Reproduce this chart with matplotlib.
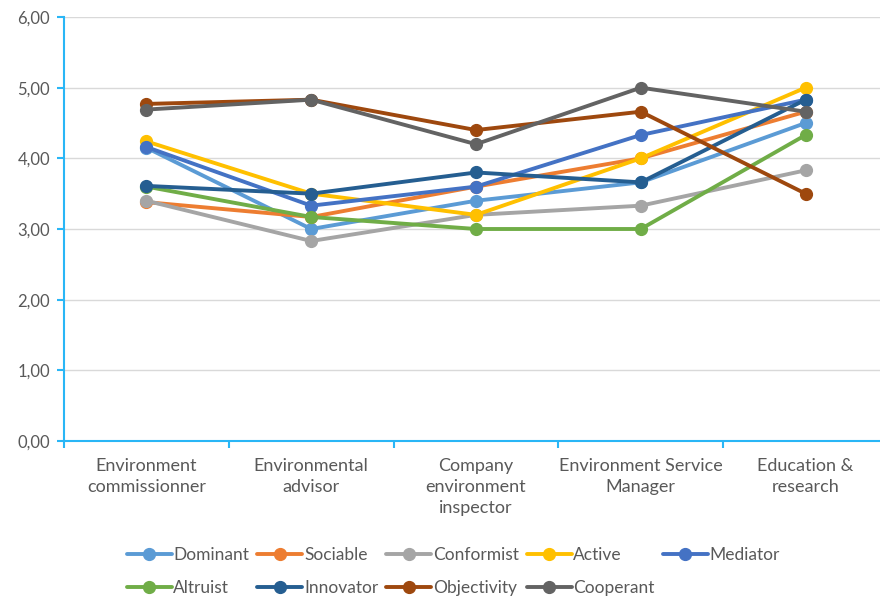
import matplotlib
matplotlib.use("Agg")
import matplotlib.pyplot as plt
import numpy as np

categories = ["Environment\ncommissionner", "Environmental\nadvisor", "Company\nenvironment\ninspector",
              "Environment Service\nManager", "Education &\nresearch"]
series_names = ["Dominant", "Sociable", "Conformist", "Active", "Mediator",
                "Altruist", "Innovator", "Objectivity", "Cooperant"]
dominant    = [4.15, 3.00, 3.40, 3.66, 4.50]
sociable    = [3.38, 3.17, 3.60, 4.00, 4.66]
conformist  = [3.40, 2.83, 3.20, 3.33, 3.83]
active      = [4.24, 3.50, 3.20, 4.00, 5.00]
mediator    = [4.16, 3.33, 3.60, 4.33, 4.83]
altruist    = [3.60, 3.17, 3.00, 3.00, 4.33]
innovator   = [3.61, 3.50, 3.80, 3.66, 4.83]
objectivity = [4.77, 4.83, 4.40, 4.66, 3.50]
cooperant   = [4.69, 4.83, 4.20, 5.00, 4.66]
values = [dominant, sociable, conformist, active, mediator, altruist, innovator, objectivity, cooperant]
colors = ["#5B9BD5", "#ED7D31", "#A5A5A5", "#FFC000", "#4472C4",
          "#70AD47", "#255E91", "#9E480E", "#636363"]
yticks = [0, 1, 2, 3, 4, 5, 6]

plt.rcParams['font.family'] = ['Lato', 'DejaVu Sans']
fig = plt.figure(figsize=(8.8, 5.99), dpi=100)
ax = fig.add_axes([64/880, 1-441/599, 824/880, 424/599])

x = np.arange(len(categories))
handles = []
for name, vals, c in zip(series_names, values, colors):
    h, = ax.plot(x, vals, color=c, lw=2.8, marker='o', markersize=8.5, label=name,
                 solid_capstyle='round', clip_on=False)
    handles.append(h)

ax.set_xlim(-0.5, 4.5)
ax.set_ylim(0, 6)
ax.set_yticks(yticks)
ax.set_yticklabels([f"{v:.2f}".replace('.', ',') for v in yticks])
ax.set_xticks(x)
ax.set_xticklabels(categories, linespacing=1.38)
ax.set_xticks(np.arange(-0.5, 4.6, 1), minor=True)
ax.tick_params(axis='x', which='major', length=0, pad=12, labelsize=13, labelcolor='#595959')
ax.tick_params(axis='x', which='minor', length=5, width=1.5, color='#29B6F6', direction='out')
ax.tick_params(axis='y', length=5, width=1.5, color='#29B6F6', pad=5, labelsize=12, labelcolor='#595959')
ax.grid(axis='y', color='#D9D9D9', lw=1)
ax.set_axisbelow(True)
for s in ['top', 'right']:
    ax.spines[s].set_visible(False)
for s in ['left', 'bottom']:
    ax.spines[s].set_color('#29B6F6')
    ax.spines[s].set_linewidth(1.5)

order = [0, 5, 1, 6, 2, 7, 3, 8, 4]
fig.legend([handles[i] for i in order], [series_names[i] for i in order],
           loc='upper center', bbox_to_anchor=(0.515, 1-531/599), ncol=5, frameon=False,
           fontsize=12.5, handlelength=2.6, handletextpad=0.1, columnspacing=0.45,
           labelspacing=1.0, labelcolor='#595959')

fig.savefig("out.png", dpi=100)
